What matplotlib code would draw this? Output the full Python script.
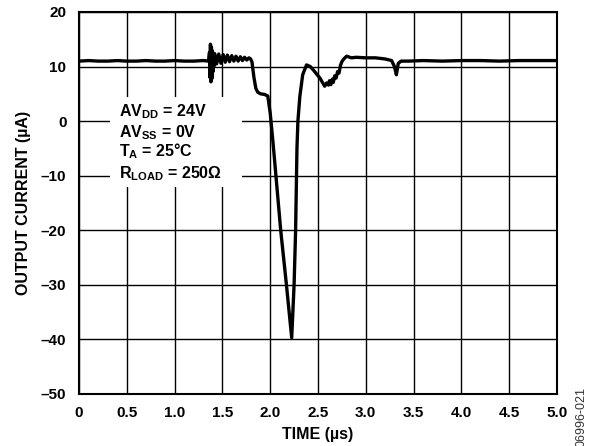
import matplotlib
matplotlib.use("Agg")
import matplotlib.pyplot as plt
from matplotlib.patches import Rectangle

plt.rcParams['font.family'] = ['Liberation Sans', 'DejaVu Sans']
plt.rcParams['font.weight'] = 'bold'
plt.rcParams['mathtext.fontset'] = 'custom'
plt.rcParams['mathtext.rm'] = 'Liberation Sans:bold'
plt.rcParams['mathtext.bf'] = 'Liberation Sans:bold'
plt.rcParams['mathtext.it'] = 'Liberation Sans:bold'

# ---- data ----
time_us = [
    0.00, 0.10, 0.20, 0.30, 0.40, 0.50, 0.60, 0.70, 0.80, 0.90, 1.00, 1.10, 1.20, 1.30, 1.355,
    1.365, 1.370, 1.375, 1.380, 1.385, 1.390, 1.395, 1.400, 1.405, 1.410, 1.418,
    1.440, 1.462, 1.485, 1.508, 1.530, 1.552, 1.575, 1.598, 1.620, 1.642, 1.665, 1.688,
    1.710, 1.732, 1.755, 1.778, 1.795,
    1.810, 1.830, 1.850, 1.870, 1.900, 1.940, 1.975, 2.000, 2.030, 2.060, 2.110, 2.170, 2.225,
    2.250, 2.266, 2.280, 2.290, 2.310, 2.340, 2.380, 2.420, 2.450, 2.520, 2.570,
    2.590, 2.610, 2.620, 2.635, 2.650, 2.660, 2.675, 2.690, 2.705, 2.720, 2.735, 2.750, 2.770,
    2.800, 2.850, 2.900, 3.000, 3.100, 3.200, 3.270, 3.300, 3.320, 3.340, 3.370, 3.450,
    3.600, 3.800, 4.000, 4.200, 4.400, 4.600, 4.800, 5.000,
]
current_ua = [
    11.0, 11.1, 11.0, 11.0, 11.1, 11.0, 11.0, 11.1, 11.0, 11.0, 11.1, 11.0, 11.0, 11.1, 11.0,
    12.6, 8.0, 14.1, 7.2, 13.6, 7.8, 12.9, 9.0, 12.3, 10.0, 12.4,
    10.5, 12.3, 10.6, 12.2, 10.8, 12.1, 10.9, 12.0, 11.0, 11.9, 11.0, 11.8,
    11.1, 11.7, 11.2, 11.6, 11.4,
    10.8, 8.0, 6.0, 5.3, 5.0, 4.9, 4.6, 1.5, -4.0, -10.0, -20.0, -30.0, -39.7,
    -30.0, -20.0, -5.0, 0.0, 4.5, 8.5, 10.3, 10.0, 9.4, 7.9, 6.4,
    7.0, 6.6, 7.4, 6.7, 7.7, 7.1, 8.3, 7.9, 9.1, 8.8, 10.2, 10.9, 11.4,
    11.9, 11.6, 11.7, 11.6, 11.6, 11.4, 11.1, 10.0, 8.5, 10.6, 11.0, 11.0,
    11.1, 11.0, 11.1, 11.1, 11.0, 11.1, 11.1, 11.1,
]

x_ticks = [0, 0.5, 1.0, 1.5, 2.0, 2.5, 3.0, 3.5, 4.0, 4.5, 5.0]
x_tick_labels = ["0", "0.5", "1.0", "1.5", "2.0", "2.5", "3.0", "3.5", "4.0", "4.5", "5.0"]
y_ticks = [-50, -40, -30, -20, -10, 0, 10, 20]
y_tick_labels = ["\u201350", "\u201340", "\u201330", "\u201320", "\u201310", "0", "10", "20"]

notes = [r"AV$_{\mathrm{DD}}$ = 24V", r"AV$_{\mathrm{SS}}$ = 0V",
         r"T$_{\mathrm{A}}$ = 25°C", r"R$_{\mathrm{LOAD}}$ = 250Ω"]

fig = plt.figure(figsize=(5.98, 4.46), dpi=100)
ax = fig.add_axes([0.1321, 0.1166, 0.7993, 0.8565])

ax.set_xlim(0, 5)
ax.set_ylim(-50, 20)
ax.set_xticks(x_ticks)
ax.set_xticklabels(x_tick_labels)
ax.set_yticks(y_ticks)
ax.set_yticklabels(y_tick_labels)
ax.tick_params(length=0, labelsize=11, pad=9)
for lab in ax.get_xticklabels() + ax.get_yticklabels():
    lab.set_fontweight('bold')

ax.grid(True, color='black', linewidth=1.0, zorder=1)
ax.set_axisbelow(True)
for s in ax.spines.values():
    s.set_linewidth(1.5)
    s.set_zorder(5)

# white box behind the annotation
ax.add_patch(Rectangle((0.065, 0.542), 0.276, 0.235, transform=ax.transAxes,
                       facecolor='white', edgecolor='none', zorder=2))

ax.plot(time_us, current_ua, color='black', linewidth=2.4, zorder=4,
        solid_joinstyle='round')

for i, txt in enumerate(notes):
    ax.text(0.0837, [0.726, 0.673, 0.621, 0.565][i], txt, transform=ax.transAxes,
            fontsize=11.5, fontweight='bold', ha='left', va='baseline', zorder=6)

ax.set_xlabel("TIME (µs)", fontsize=11.5, fontweight='bold', labelpad=5)
ax.set_ylabel("OUTPUT CURRENT (µA)", fontsize=11.5, fontweight='bold', labelpad=7)

fig.text(0.972, 0.132, "06996-021", rotation=90, fontsize=9, fontweight='normal',
         color='#333333', ha='center', va='top')

fig.savefig("out.png", dpi=100)
